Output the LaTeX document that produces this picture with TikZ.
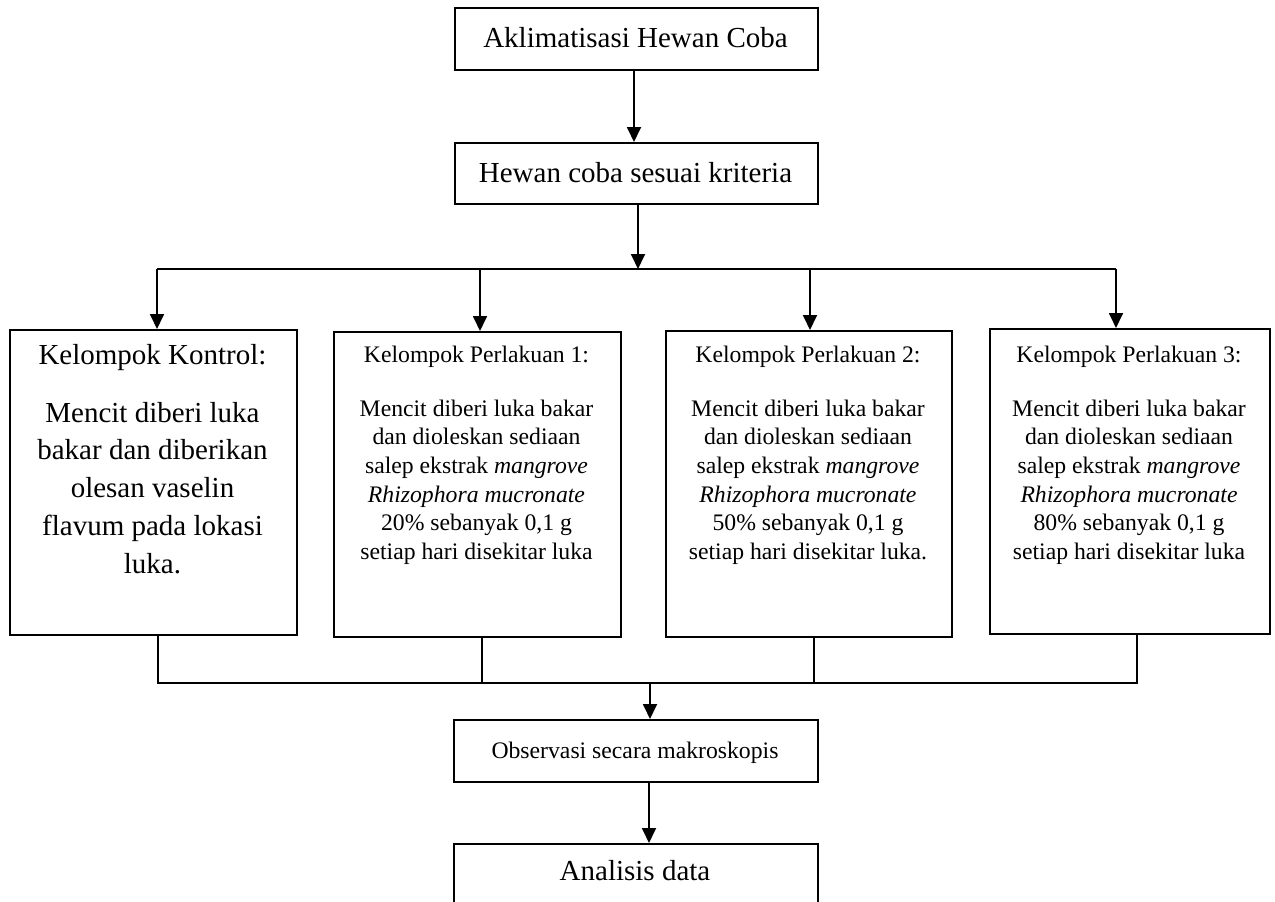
\documentclass[tikz,border=0pt]{standalone}
\usepackage{fontspec}
\setmainfont{Liberation Serif}
\usetikzlibrary{arrows.meta}
\newcommand\bigfnt{\fontsize{29}{37.75}\selectfont}
\newcommand\smfnt{\fontsize{23.7}{28.6}\selectfont}
\tikzset{
  box/.style={draw, line width=1.8pt, rectangle, inner sep=0pt, anchor=north west},
  ln/.style={line width=1.8pt},
  arr/.style={line width=1.8pt, -{Triangle[width=14pt,length=15pt]}},
  big/.style={font=\bigfnt, inner sep=0pt, anchor=base},
  sm/.style={font=\smfnt, inner sep=0pt, anchor=base},
  bigbody/.style={font=\bigfnt, inner sep=0pt, anchor=north, align=center},
  smbody/.style={font=\smfnt, inner sep=0pt, anchor=north, align=center},
}
\begin{document}
\begin{tikzpicture}[x=1pt,y=-1pt]
\useasboundingbox (0,0) rectangle (1275,902);
% top boxes
\node[box, minimum width=363pt, minimum height=62pt] (A) at (454,7) {};
\node[big] (tA) at (635.5,47) {Aklimatisasi Hewan Coba};
\node[box, minimum width=363pt, minimum height=61pt] (H) at (454,142) {};
\node[big] (tH) at (635.5,182) {Hewan coba sesuai kriteria};
% group boxes
\node[box, minimum width=287pt, minimum height=305pt] (K) at (9,329) {};
\node[big] (tK) at (152.5,364) {Kelompok Kontrol:};
\node[bigbody] (bK) at (152.5,422-26.43) {\strut Mencit diberi luka\\bakar dan diberikan\\olesan vaselin\\flavum pada lokasi\\luka.};
\node[box, minimum width=287pt, minimum height=305pt] (P1) at (333,331) {};
\node[sm] (tP1) at (476.5,362) {Kelompok Perlakuan 1:};
\node[smbody] (bP1) at (476.5,416-20.02) {\strut Mencit diberi luka bakar\\dan dioleskan sediaan\\salep ekstrak \textit{mangrove}\\\textit{Rhizophora mucronate}\\20\% sebanyak 0,1 g\\setiap hari disekitar luka};
\node[box, minimum width=286pt, minimum height=306pt] (P2) at (665,330) {};
\node[sm] (tP2) at (808,362) {Kelompok Perlakuan 2:};
\node[smbody] (bP2) at (808,416-20.02) {\strut Mencit diberi luka bakar\\dan dioleskan sediaan\\salep ekstrak \textit{mangrove}\\\textit{Rhizophora mucronate}\\50\% sebanyak 0,1 g\\setiap hari disekitar luka.};
\node[box, minimum width=280pt, minimum height=305pt] (P3) at (989,328) {};
\node[sm] (tP3) at (1129,362) {Kelompok Perlakuan 3:};
\node[smbody] (bP3) at (1129,416-20.02) {\strut Mencit diberi luka bakar\\dan dioleskan sediaan\\salep ekstrak \textit{mangrove}\\\textit{Rhizophora mucronate}\\80\% sebanyak 0,1 g\\setiap hari disekitar luka};
% bottom boxes
\node[box, minimum width=364pt, minimum height=62pt] (O) at (453,719) {};
\node[sm] (tO) at (635,758) {Observasi secara makroskopis};
\node[box, minimum width=364pt, minimum height=80pt] (N) at (453,843) {};
\node[big] (tN) at (635,880) {Analisis data};
% coordinates
\coordinate (br) at (638,269);
\coordinate (bl) at (157,269);
\coordinate (brr) at (1116,269);
\coordinate (x1) at (480,269);
\coordinate (x2) at (810,269);
\coordinate (m0) at (158,683);
\coordinate (m1) at (482,683);
\coordinate (m2) at (814,683);
\coordinate (m3) at (1137,683);
\coordinate (mc) at (650,683);
% connectors
\draw[arr] (A.south -| 634,0) -- (H.north -| 634,0);
\draw[arr] (br |- H.south) -- (br);
\draw[ln] (bl) -- (brr);
\draw[arr] (bl) -- (bl |- K.north);
\draw[arr] (x1) -- (x1 |- P1.north);
\draw[arr] (x2) -- (x2 |- P2.north);
\draw[arr] (brr) -- (brr |- P3.north);
\draw[ln] (m0 |- K.south) -- (m0);
\draw[ln] (m1 |- P1.south) -- (m1);
\draw[ln] (m2 |- P2.south) -- (m2);
\draw[ln] (m3 |- P3.south) -- (m3);
\draw[ln] ([xshift=-0.9pt]m0) -- ([xshift=0.9pt]m3);
\draw[arr] (mc) -- (mc |- O.north);
\draw[arr] (O.south -| 649,0) -- (N.north -| 649,0);
\end{tikzpicture}
\end{document}
